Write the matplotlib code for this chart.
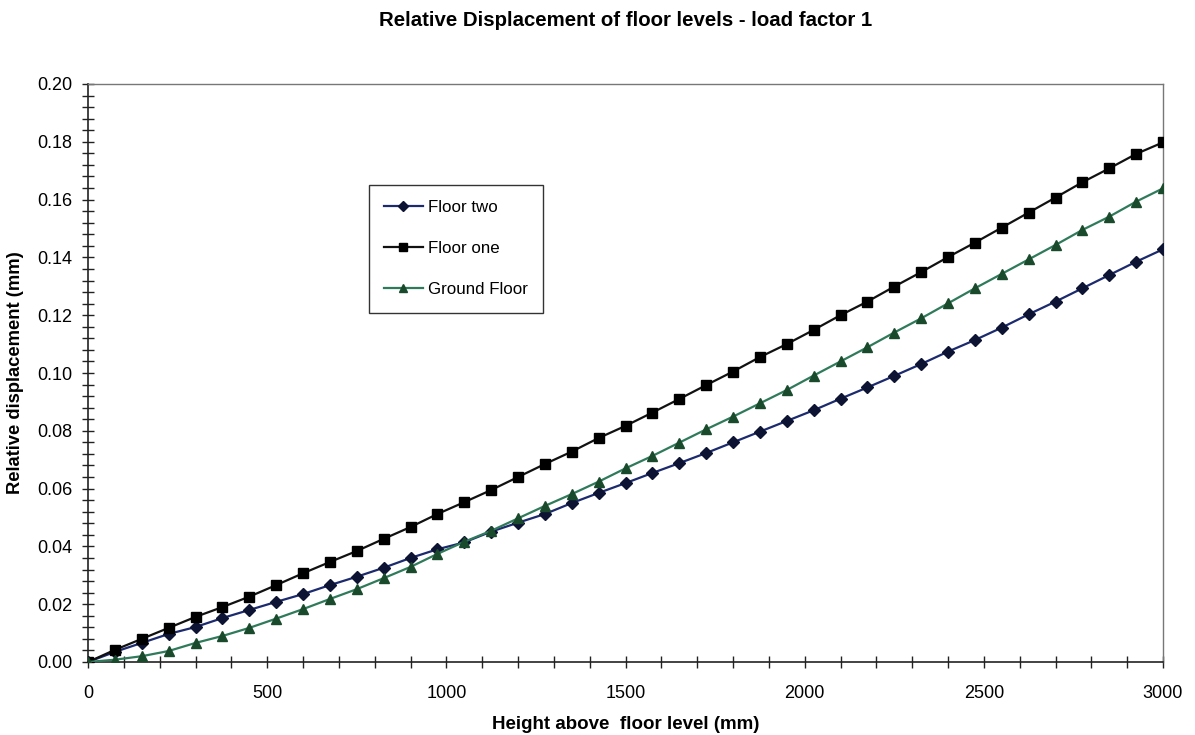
import matplotlib
matplotlib.use("Agg")
import matplotlib.pyplot as plt
from matplotlib.ticker import MultipleLocator, FormatStrFormatter

plt.rcParams['font.family'] = ['Liberation Sans', 'DejaVu Sans']

height_mm = [0, 75, 150, 225, 300, 375, 450, 525, 600, 675, 750, 825, 900, 975,
             1050, 1125, 1200, 1275, 1350, 1425, 1500, 1575, 1650, 1725, 1800,
             1875, 1950, 2025, 2100, 2175, 2250, 2325, 2400, 2475, 2550, 2625,
             2700, 2775, 2850, 2925, 3000]

floor_two = [0.0, 0.0035, 0.0066, 0.0097, 0.0121, 0.0152, 0.0180, 0.0208, 0.0235,
             0.0266, 0.0295, 0.0326, 0.0360, 0.0390, 0.0414, 0.0451, 0.0482,
             0.0512, 0.0550, 0.0585, 0.0619, 0.0654, 0.0688, 0.0723, 0.0760,
             0.0797, 0.0834, 0.0871, 0.0911, 0.0950, 0.0990, 0.1031, 0.1074,
             0.1114, 0.1157, 0.1203, 0.1247, 0.1293, 0.1339, 0.1385, 0.1428]

floor_one = [0.0, 0.0042, 0.0080, 0.0118, 0.0156, 0.0190, 0.0226, 0.0266, 0.0307,
             0.0346, 0.0384, 0.0426, 0.0467, 0.0512, 0.0553, 0.0595, 0.0640,
             0.0685, 0.0728, 0.0775, 0.0817, 0.0863, 0.0910, 0.0958, 0.1005,
             0.1055, 0.1100, 0.1149, 0.1200, 0.1247, 0.1299, 0.1349, 0.1401,
             0.1451, 0.1503, 0.1555, 0.1607, 0.1660, 0.1708, 0.1758, 0.1798]

ground_floor = [0.0, 0.0008, 0.0020, 0.0038, 0.0066, 0.0090, 0.0118, 0.0150, 0.0183,
                0.0218, 0.0252, 0.0290, 0.0329, 0.0374, 0.0416, 0.0454, 0.0497,
                0.0540, 0.0581, 0.0624, 0.0670, 0.0713, 0.0759, 0.0805, 0.0849,
                0.0895, 0.0941, 0.0991, 0.1040, 0.1089, 0.1140, 0.1189, 0.1241,
                0.1293, 0.1343, 0.1393, 0.1443, 0.1495, 0.1541, 0.1593, 0.1639]

series_names = ['Floor two', 'Floor one', 'Ground Floor']

fig = plt.figure(figsize=(11.95, 7.35), dpi=100)
ax = fig.add_axes([88/1195, 1-662/735, (1163-88)/1195, (662-84)/735])

ax.plot(height_mm, floor_two, color='#1c2a6e', lw=1.6, marker='D', ms=6,
        mfc='#0d1433', mec='#0d1433', label=series_names[0], zorder=3)
ax.plot(height_mm, floor_one, color='#111111', lw=1.6, marker='s', ms=7.5,
        mfc='#000000', mec='#000000', label=series_names[1], zorder=3)
ax.plot(height_mm, ground_floor, color='#2f7a5a', lw=1.6, marker='^', ms=7.5,
        mfc='#1a4a2c', mec='#1a4a2c', label=series_names[2], zorder=4)

ax.set_xlim(0, 3000)
ax.set_ylim(0, 0.20)
ax.xaxis.set_major_locator(MultipleLocator(500))
ax.xaxis.set_minor_locator(MultipleLocator(100))
ax.yaxis.set_major_locator(MultipleLocator(0.02))
ax.yaxis.set_minor_locator(MultipleLocator(0.004))
ax.yaxis.set_major_formatter(FormatStrFormatter('%.2f'))

for s in ['top', 'right']:
    ax.spines[s].set_color('#777777')
    ax.spines[s].set_linewidth(1.0)
for s in ['left', 'bottom']:
    ax.spines[s].set_color('#222222')
    ax.spines[s].set_linewidth(1.2)

ax.tick_params(axis='both', which='both', direction='inout', color='#222222', width=1.0)
ax.tick_params(axis='both', which='major', length=9, labelsize=13)
ax.tick_params(axis='both', which='minor', length=8)
ax.tick_params(axis='y', which='major', pad=7)
ax.tick_params(axis='x', which='major', pad=12)

ax.set_xlabel('Height above  floor level (mm)', fontsize=13.5, fontweight='bold',
              labelpad=10)
ax.set_ylabel('Relative displacement (mm)', fontsize=13.2, fontweight='bold', labelpad=9)

fig.text(626/1195, 1-20/735, 'Relative Displacement of floor levels - load factor 1',
         ha='center', va='center', fontsize=14.7, fontweight='bold')

leg = ax.legend(loc='upper left', bbox_to_anchor=(0.261, 0.826), fontsize=12.2,
                frameon=True, fancybox=False, edgecolor='#333333', framealpha=1,
                handlelength=2.3, handletextpad=0.3, labelspacing=1.55,
                borderpad=0.9, borderaxespad=0, markerscale=0.85)
leg.get_frame().set_linewidth(1.0)

fig.savefig('out.png', dpi=100, facecolor='white')
